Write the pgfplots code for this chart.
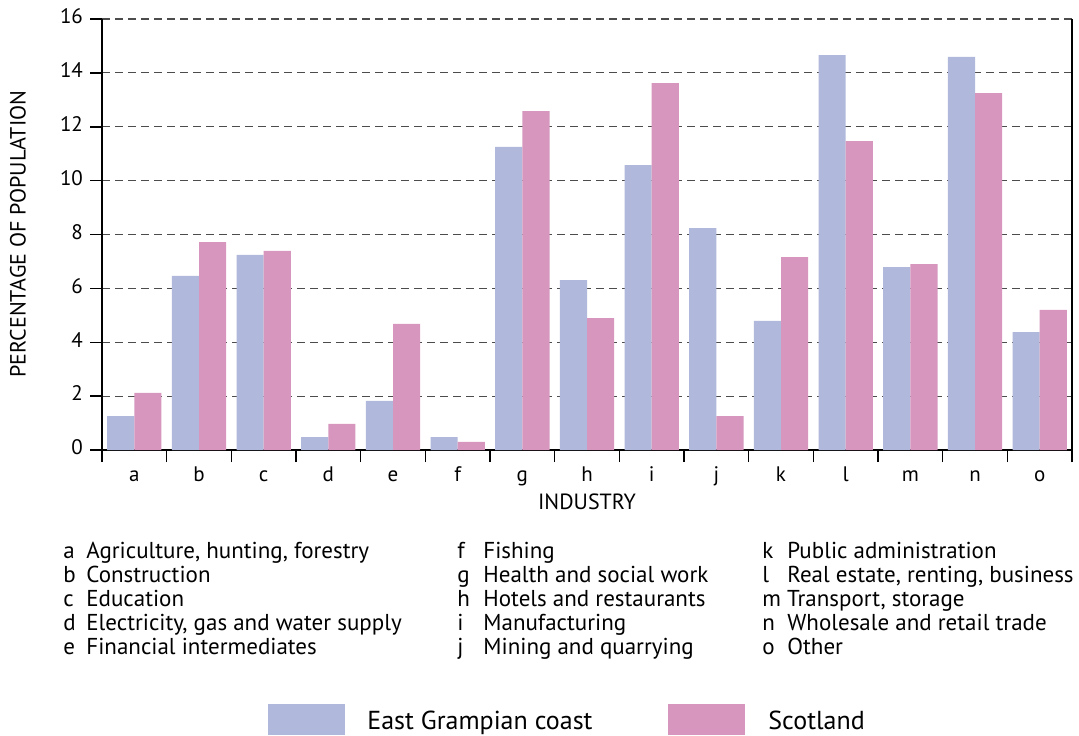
\documentclass[border=0pt]{standalone}
\usepackage{pgfplots}
\pgfplotsset{compat=1.18}
\usepackage{fontspec}
\setmainfont{PT Sans}
\usetikzlibrary{calc}
\definecolor{egc}{HTML}{B0B9DB}
\definecolor{sco}{HTML}{D696BE}
\definecolor{gridc}{gray}{0.3}
\begin{document}
\begin{tikzpicture}
\begin{axis}[name=ax, scale only axis, width=485pt, height=215.5pt,
  xmin=-0.5, xmax=14.5, ymin=0, ymax=16,
  axis x line*=bottom, axis y line*=left,
  axis line style={line width=0.75pt, black, -},
  ytick={0,2,...,16},
  xtick={0,...,14}, xticklabels={a,b,c,d,e,f,g,h,i,j,k,l,m,n,o},
  minor xtick={-0.5,0.5,...,14.5},
  major x tick style={draw=none},
  tick align=outside,
  minor tick length=6pt, major tick length=6pt,
  tick style={black, line width=0.75pt},
  ymajorgrids, major grid style={gridc, dash pattern=on 4pt off 2.5pt, line width=0.6pt},
  /pgf/number format/assume math mode=true,
  ticklabel style={font=\fontsize{10.5}{12}\selectfont},
  xticklabel style={yshift=2pt},
  typeset ticklabels with strut,
]
\addplot[ybar, bar width=0.42, bar shift=-0.21, fill=egc, draw=none] coordinates {
(0,1.26) (1,6.46) (2,7.24) (3,0.48) (4,1.82) (5,0.48) (6,11.25) (7,6.31) (8,10.58) (9,8.24) (10,4.79) (11,14.66) (12,6.79) (13,14.59) (14,4.38)};
\addplot[ybar, bar width=0.42, bar shift=0.21, fill=sco, draw=none] coordinates {
(0,2.12) (1,7.72) (2,7.39) (3,0.97) (4,4.68) (5,0.30) (6,12.58) (7,4.90) (8,13.62) (9,1.26) (10,7.16) (11,11.47) (12,6.90) (13,13.25) (14,5.20)};
\end{axis}
\draw[line width=0.75pt] ($(ax.south east)+(0,-6pt)$) -- (ax.north east);
\begin{scope}[shift={(ax.south west)}]
\node[rotate=90, font=\fontsize{11}{12}\selectfont] at (-42pt,108pt) {PERCENTAGE OF POPULATION};
\node[anchor=base, font=\fontsize{11}{12}\selectfont] at (242.5pt,-29.5pt) {INDUSTRY};
\begin{scope}[every node/.style={anchor=base west, inner sep=0pt, font=\fontsize{11.5}{12}\selectfont}]
\node at (-19.5pt,-54pt) {a}; \node at (-8pt,-54pt) {Agriculture, hunting, forestry};
\node at (-19.5pt,-66pt) {b}; \node at (-8pt,-66pt) {Construction};
\node at (-19.5pt,-78pt) {c}; \node at (-8pt,-78pt) {Education};
\node at (-19.5pt,-90pt) {d}; \node at (-8pt,-90pt) {Electricity, gas and water supply};
\node at (-19.5pt,-102pt) {e}; \node at (-8pt,-102pt) {Financial intermediates};
\node at (177.5pt,-54pt) {f}; \node at (190.5pt,-54pt) {Fishing};
\node at (177.5pt,-66pt) {g}; \node at (190.5pt,-66pt) {Health and social work};
\node at (177.5pt,-78pt) {h}; \node at (190.5pt,-78pt) {Hotels and restaurants};
\node at (177.5pt,-90pt) {i}; \node at (190.5pt,-90pt) {Manufacturing};
\node at (177.5pt,-102pt) {j}; \node at (190.5pt,-102pt) {Mining and quarrying};
\node at (330pt,-54pt) {k}; \node at (342.5pt,-54pt) {Public administration};
\node at (330pt,-66pt) {l}; \node at (342.5pt,-66pt) {Real estate, renting, business};
\node at (330pt,-78pt) {m Transport, storage};
\node at (330pt,-90pt) {n}; \node at (342.5pt,-90pt) {Wholesale and retail trade};
\node at (330pt,-102pt) {o}; \node at (342.5pt,-102pt) {Other};
\end{scope}
\fill[egc] (83pt,-127pt) rectangle (121.5pt,-142.5pt);
\fill[sco] (283pt,-127pt) rectangle (321.5pt,-142.5pt);
\node[anchor=base west, inner sep=0pt, font=\fontsize{13}{15}\selectfont] at (132.5pt,-139.5pt) {East Grampian coast};
\node[anchor=base west, inner sep=0pt, font=\fontsize{13}{15}\selectfont] at (333pt,-139.5pt) {Scotland};
\end{scope}
\pgfresetboundingbox
\path[use as bounding box] ($(ax.south west)+(-51pt,-142.5pt)$) rectangle ++(539.5pt,367.5pt);
\end{tikzpicture}
\end{document}
